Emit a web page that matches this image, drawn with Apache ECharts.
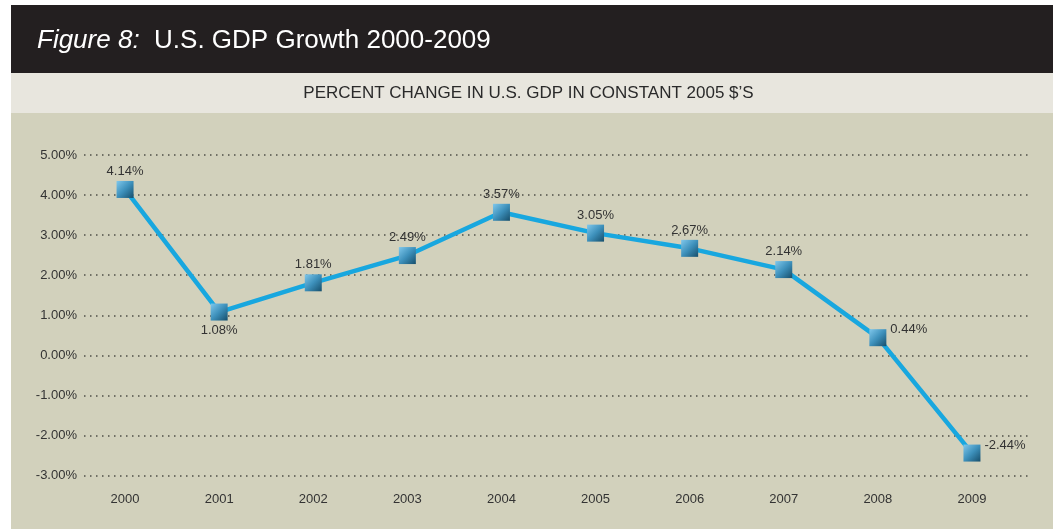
<!DOCTYPE html>
<html><head><meta charset="utf-8">
<script src="https://cdn.jsdelivr.net/npm/echarts@6/dist/echarts.min.js"></script>
<style>html,body{margin:0;padding:0;background:#fff}#c{width:1057px;height:529px}</style>
</head><body><div id="c"></div>
<script>
const years = ['2000','2001','2002','2003','2004','2005','2006','2007','2008','2009'];
const growth = [4.14, 1.08, 1.81, 2.49, 3.57, 3.05, 2.67, 2.14, 0.44, -2.44];
const labelPos = ['top','bottom','top','top','top','top','top','top','right','right'];
const yMin = -3, yMax = 5, yStep = 1;

const chart = echarts.init(document.getElementById('c'));
const font = 'Liberation Sans, Arial, sans-serif';
const markerColor = new echarts.graphic.LinearGradient(0, 0, 1, 1, [
  {offset: 0, color: '#80c8ec'}, {offset: 0.5, color: '#3d90bb'}, {offset: 1, color: '#164e6b'}
]);
chart.setOption({
  animation: false,
  backgroundColor: '#ffffff',
  graphic: [
    {type: 'rect', shape: {x: 11, y: 5, width: 1042, height: 68}, style: {fill: '#231f20'}, z: -10},
    {type: 'rect', shape: {x: 11, y: 73, width: 1042, height: 40}, style: {fill: '#e8e6de'}, z: -10},
    {type: 'rect', shape: {x: 11, y: 113, width: 1042, height: 416}, style: {fill: '#d2d1bc'}, z: -10},
    {type: 'text', left: 37, top: 28, style: {
      text: '{i|Figure 8:}  U.S. GDP Growth 2000-2009', fill: '#ffffff',
      font: '26px ' + font,
      rich: {i: {fontStyle: 'italic', fontSize: 26, fontFamily: font, fill: '#ffffff'}}
    }},
    {type: 'text', left: 'center', top: 85, style: {
      text: 'PERCENT CHANGE IN U.S. GDP IN CONSTANT 2005 $’S', fill: '#2a2a2a',
      font: '17px ' + font
    }}
  ],
  grid: [
    {left: 84, right: 29, top: 155, bottom: 529 - 475.5},
    {left: 78, right: 38, top: 155, bottom: 529 - 475.5}
  ],
  xAxis: [
    {type: 'value', gridIndex: 0, show: false, min: 0, max: 1},
    {type: 'category', gridIndex: 1, data: years, boundaryGap: true,
     axisLine: {show: false}, axisTick: {show: false},
     axisLabel: {color: '#333', fontSize: 13, fontFamily: font, margin: 17}}
  ],
  yAxis: [
    {type: 'value', gridIndex: 0, min: yMin, max: yMax, interval: yStep,
     axisLine: {show: false}, axisTick: {show: false},
     axisLabel: {color: '#333', fontSize: 13, fontFamily: font, margin: 7,
       formatter: v => v.toFixed(2) + '%'},
     splitLine: {show: true, lineStyle: {color: '#4f4f47', type: [1.5, 4.5], width: 1.6}}},
    {type: 'value', gridIndex: 1, min: yMin, max: yMax, interval: yStep, show: false,
     splitLine: {show: false}}
  ],
  series: [{
    type: 'line', xAxisIndex: 1, yAxisIndex: 1,
    data: growth.map((v, i) => ({value: v, label: labelPos[i] === 'right'
      ? {position: 'right', distance: 4, offset: [0, -8]}
      : {position: labelPos[i]}})),
    symbol: 'rect', symbolSize: 17,
    lineStyle: {color: '#18a7df', width: 4.5},
    itemStyle: {color: markerColor, borderWidth: 0},
    label: {show: true, color: '#333', fontSize: 13, fontFamily: font, distance: 3,
      formatter: p => p.value.toFixed(2) + '%'}
  }]
});
</script></body></html>
